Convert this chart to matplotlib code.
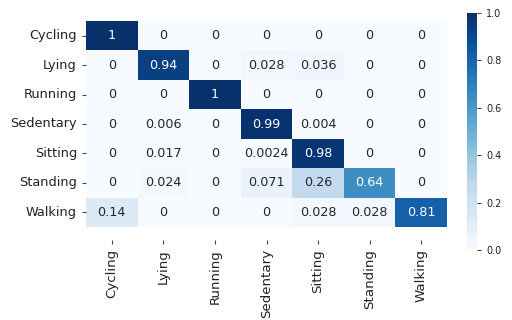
import numpy as np
import matplotlib
matplotlib.use('Agg')
import matplotlib.pyplot as plt
import seaborn as sns

labels = ['Cycling', 'Lying', 'Running', 'Sedentary', 'Sitting', 'Standing', 'Walking']

# confusion matrix rows (true) x cols (predicted), normalised
row_cycling = [1, 0, 0, 0, 0, 0, 0]
row_lying = [0, 0.94, 0, 0.028, 0.036, 0, 0]
row_running = [0, 0, 1, 0, 0, 0, 0]
row_sedentary = [0, 0.006, 0, 0.99, 0.004, 0, 0]
row_sitting = [0, 0.017, 0, 0.0024, 0.98, 0, 0]
row_standing = [0, 0.024, 0, 0.071, 0.26, 0.64, 0]
row_walking = [0.14, 0, 0, 0, 0.028, 0.028, 0.81]

cm = np.array([row_cycling, row_lying, row_running, row_sedentary,
               row_sitting, row_standing, row_walking])

fig = plt.figure(figsize=(5.12, 3.2), dpi=100)
ax = fig.add_axes([86 / 512, 1 - 227 / 320, (447 - 86) / 512, (227 - 21) / 320])
cax = fig.add_axes([467 / 512, 1 - 250 / 320, 10 / 512, (250 - 13) / 320])

sns.heatmap(cm, annot=True, cmap='Blues', vmin=0, vmax=1,
            xticklabels=labels, yticklabels=labels,
            ax=ax, cbar_ax=cax, annot_kws={'size': 9.2})

# the x ticks sit a bit below the matrix in the original
ax.spines['bottom'].set_position(('outward', 9.5))
ax.tick_params(axis='both', length=3, color='#444444', labelcolor='#222222')
ax.set_xticklabels(labels, rotation=90, fontsize=9.6)
ax.set_yticklabels(labels, rotation=0, fontsize=9.3)
cax.tick_params(labelsize=7, length=3, color='#444444', labelcolor='#222222')
cax.set_yticks([0.0, 0.2, 0.4, 0.6, 0.8, 1.0])

fig.savefig('out.png', dpi=100)
